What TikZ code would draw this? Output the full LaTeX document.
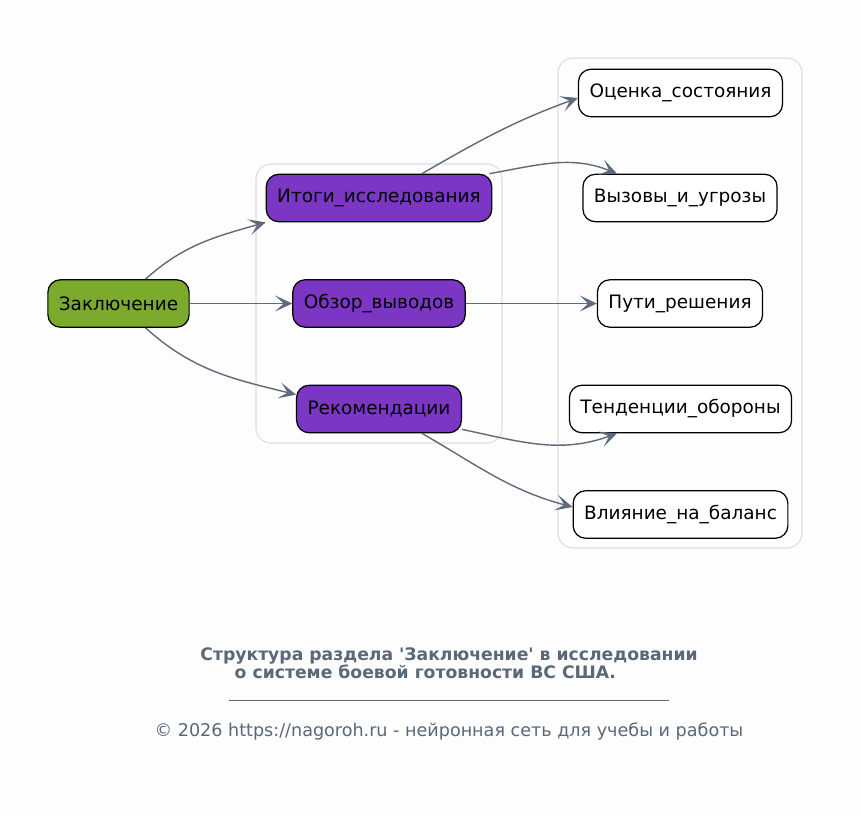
\documentclass[tikz,border=0pt]{standalone}
\usepackage{fontspec}
\setmainfont{DejaVu Sans}[Ligatures=TeXOff]
\usetikzlibrary{arrows.meta,positioning,calc}

\definecolor{bgcol}{HTML}{FDFDFD}
\definecolor{edgecol}{HTML}{5F6B7A}
\definecolor{rootcol}{HTML}{7BAA2C}
\definecolor{midcol}{HTML}{7B36C4}
\definecolor{clustcol}{HTML}{DDDDDD}
\definecolor{capcol}{HTML}{5A6878}

\tikzset{
  box/.style={draw=black, line width=0.7pt, rounded corners=0.25cm,
    minimum height=0.95cm, inner xsep=0.22cm, font=\fontsize{10.5}{12}\selectfont},
  rootbox/.style={box, fill=rootcol},
  midbox/.style={box, fill=midcol},
  leafbox/.style={box, fill=white},
  cluster/.style={draw=clustcol, line width=0.6pt, rounded corners=0.3cm},
  edge/.style={draw=edgecol, line width=0.8pt,
    -{Stealth[length=0.34cm, width=0.32cm, inset=0.17cm, line width=0.6pt]}}
}

\begin{document}
\begin{tikzpicture}[x=0.02cm,y=0.02cm]

  % background and frame
  \fill[bgcol] (0,0) rectangle (861,816);
  \useasboundingbox (0,0) rectangle (861,816);

  % clusters
  \draw[cluster] (256,373) rectangle (502,652);
  \draw[cluster] (558,268) rectangle (802,758);

  % root
  \node[rootbox] (zakl) at (118.5,512.5) {Заключение};

  % middle level
  \node[midbox] (itogi) at (379,618) {Итоги\_исследования};
  \node[midbox] (obzor) at (379,512.5) {Обзор\_выводов};
  \node[midbox] (rekom) at (379,407) {Рекомендации};

  % leaves
  \node[leafbox] (ocenka) at (680.5,723) {Оценка\_состояния};
  \node[leafbox] (vyzovy) at (680,618) {Вызовы\_и\_угрозы};
  \node[leafbox] (puti) at (680,512.5) {Пути\_решения};
  \node[leafbox] (tenden) at (680.5,407) {Тенденции\_обороны};
  \node[leafbox] (vliyan) at (680.5,301.5) {Влияние\_на\_баланс};

  % edges
  \draw[edge] ($(zakl.north)+(27,0)$) to[out=42,in=196] (itogi.south west);
  \draw[edge] (zakl) -- (obzor);
  \draw[edge] ($(zakl.south)+(27,0)$) to[out=-42,in=166] ($(rekom.north west)+(0,-10)$);
  \draw[edge] ($(itogi.north)+(43,0)$) to[out=30,in=200] ($(ocenka.west)+(0,-5)$);
  \draw[edge] ($(itogi.north east)+(-3,0)$) to[out=10,in=158] ($(vyzovy.north)+(-63,0)$);
  \draw[edge] (obzor) -- (puti);
  \draw[edge] ($(rekom.south east)+(0,4)$) to[out=-12,in=200] ($(tenden.south)+(-63.5,0)$);
  \draw[edge] ($(rekom.south)+(43,0)$) to[out=-30,in=165] ($(vliyan.west)+(0,7.5)$);

  % caption
  \node[font=\bfseries\fontsize{9.8}{10.5}\selectfont, text=capcol, align=center] (caption) at (449,153)
    {Структура раздела 'Заключение' в исследовании\\о системе боевой готовности ВС США.\hspace*{0.95cm}};
  \draw[capcol, line width=0.5pt] (229,116) -- (669,116);
  \node[font=\fontsize{10}{11}\selectfont, text=capcol] (footer) at (449,85)
    {© 2026 https://nagoroh.ru - нейронная сеть для учебы и работы};

\end{tikzpicture}
\end{document}
